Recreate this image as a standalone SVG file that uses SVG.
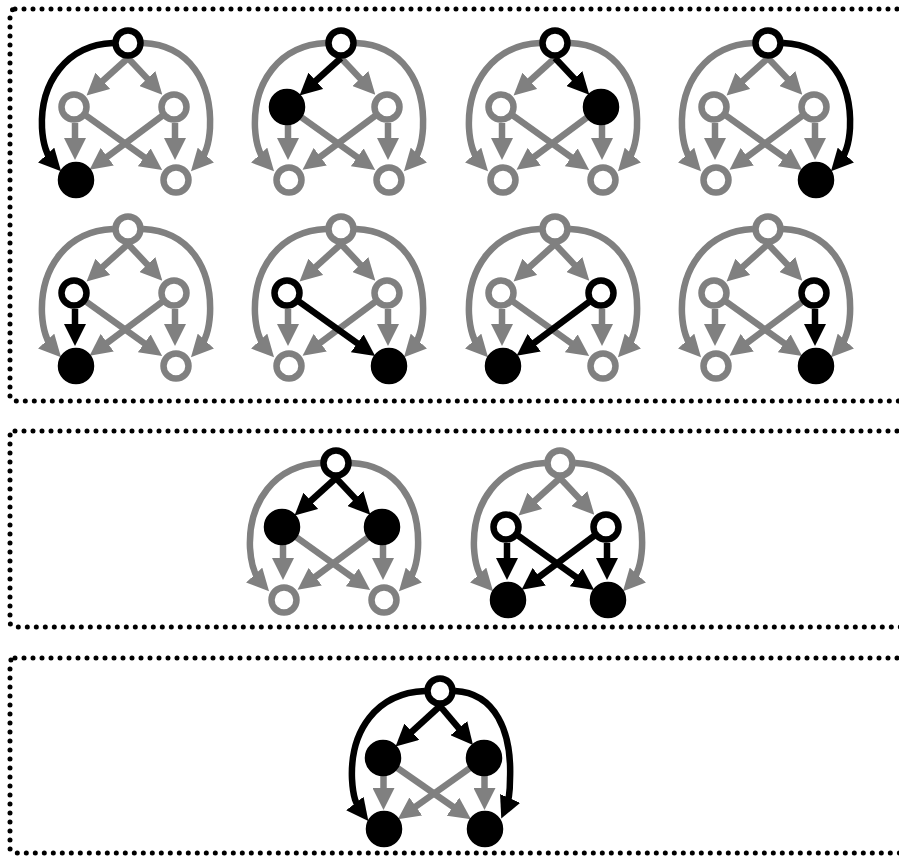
<svg xmlns="http://www.w3.org/2000/svg" width="899" height="856" viewBox="0 0 899 856">
<style>
.box{fill:none;stroke:#000;stroke-width:5;stroke-dasharray:0 9;stroke-linecap:round}
.eg{fill:none;stroke:#808080;stroke-width:6.5;marker-end:url(#ag)}
.eb{fill:none;stroke:#000;stroke-width:6.5;marker-end:url(#ab)}
.ng{fill:#fff;stroke:#808080;stroke-width:6.5}
.nb{fill:#fff;stroke:#000;stroke-width:6.5}
.nf{fill:#000;stroke:#000;stroke-width:6.5}
</style>
<defs>
<marker id="ag" markerUnits="userSpaceOnUse" viewBox="0 0 22 22" markerWidth="22" markerHeight="22" refX="11" refY="11" orient="auto"><path d="M0,0 L22,11 L0,22 z" fill="#808080"/></marker>
<marker id="ab" markerUnits="userSpaceOnUse" viewBox="0 0 22 22" markerWidth="22" markerHeight="22" refX="11" refY="11" orient="auto"><path d="M0,0 L22,11 L0,22 z" fill="#000"/></marker>
</defs>
<rect width="899" height="856" fill="#fff"/>
<g id="frames">
<rect class="box" x="10" y="9" width="910" height="392" rx="5"/>
<rect class="box" x="10" y="431" width="910" height="196" rx="5"/>
<rect class="box" x="10" y="658" width="910" height="195" rx="5"/>
</g>

<!-- Graph 1 -->
<g id="g1" transform="translate(128,43)">
<g id="g1-edges">
<path class="eg" d="M0,15 L-33.3,45.2"/>
<path class="eg" d="M0,15 L26.8,43.6"/>
<path class="eg" d="M15,0 C62,2 84,40 82,85 C81,103 77,113 70.4,120.2"/>
<path class="eg" d="M-53,80 L-53,106"/>
<path class="eg" d="M-42.6,72.2 L25.2,120.7"/>
<path class="eg" d="M34.8,72.4 L-29.6,120.3"/>
<path class="eg" d="M47,80 L47,106"/>
<path class="eb" d="M-15,0 C-62,2 -88,40 -86,85 C-85,103 -81,113 -74.4,120.2"/>
</g>
<g id="g1-t"><circle class="nb" cx="0" cy="0" r="12.5"/></g>
<g id="g1-ml"><circle class="ng" cx="-54" cy="64" r="12.5"/></g>
<g id="g1-mr"><circle class="ng" cx="46" cy="64" r="12.5"/></g>
<g id="g1-bl"><circle class="nf" cx="-52" cy="137" r="15"/></g>
<g id="g1-br"><circle class="ng" cx="48" cy="137" r="12.5"/></g>
</g>

<!-- Graph 2 -->
<g id="g2" transform="translate(341,43)">
<g id="g2-edges">
<path class="eg" d="M0,15 L26.8,43.6"/>
<path class="eg" d="M-15,0 C-62,2 -88,40 -86,85 C-85,103 -81,113 -74.4,120.2"/>
<path class="eg" d="M15,0 C62,2 84,40 82,85 C81,103 77,113 70.4,120.2"/>
<path class="eg" d="M-53,80 L-53,106"/>
<path class="eg" d="M-42.6,72.2 L25.2,120.7"/>
<path class="eg" d="M34.8,72.4 L-29.6,120.3"/>
<path class="eg" d="M47,80 L47,106"/>
<path class="eb" d="M0,15 L-33.3,45.2"/>
</g>
<g id="g2-t"><circle class="nb" cx="0" cy="0" r="12.5"/></g>
<g id="g2-ml"><circle class="nf" cx="-54" cy="64" r="15"/></g>
<g id="g2-mr"><circle class="ng" cx="46" cy="64" r="12.5"/></g>
<g id="g2-bl"><circle class="ng" cx="-52" cy="137" r="12.5"/></g>
<g id="g2-br"><circle class="ng" cx="48" cy="137" r="12.5"/></g>
</g>

<!-- Graph 3 -->
<g id="g3" transform="translate(555,43)">
<g id="g3-edges">
<path class="eg" d="M0,15 L-33.3,45.2"/>
<path class="eg" d="M-15,0 C-62,2 -88,40 -86,85 C-85,103 -81,113 -74.4,120.2"/>
<path class="eg" d="M15,0 C62,2 84,40 82,85 C81,103 77,113 70.4,120.2"/>
<path class="eg" d="M-53,80 L-53,106"/>
<path class="eg" d="M-42.6,72.2 L25.2,120.7"/>
<path class="eg" d="M34.8,72.4 L-29.6,120.3"/>
<path class="eg" d="M47,80 L47,106"/>
<path class="eb" d="M0,15 L26.8,43.6"/>
</g>
<g id="g3-t"><circle class="nb" cx="0" cy="0" r="12.5"/></g>
<g id="g3-ml"><circle class="ng" cx="-54" cy="64" r="12.5"/></g>
<g id="g3-mr"><circle class="nf" cx="46" cy="64" r="15"/></g>
<g id="g3-bl"><circle class="ng" cx="-52" cy="137" r="12.5"/></g>
<g id="g3-br"><circle class="ng" cx="48" cy="137" r="12.5"/></g>
</g>

<!-- Graph 4 -->
<g id="g4" transform="translate(768,43)">
<g id="g4-edges">
<path class="eg" d="M0,15 L-33.3,45.2"/>
<path class="eg" d="M0,15 L26.8,43.6"/>
<path class="eg" d="M-15,0 C-62,2 -88,40 -86,85 C-85,103 -81,113 -74.4,120.2"/>
<path class="eg" d="M-53,80 L-53,106"/>
<path class="eg" d="M-42.6,72.2 L25.2,120.7"/>
<path class="eg" d="M34.8,72.4 L-29.6,120.3"/>
<path class="eg" d="M47,80 L47,106"/>
<path class="eb" d="M15,0 C62,2 84,40 82,85 C81,103 77,113 70.4,120.2"/>
</g>
<g id="g4-t"><circle class="nb" cx="0" cy="0" r="12.5"/></g>
<g id="g4-ml"><circle class="ng" cx="-54" cy="64" r="12.5"/></g>
<g id="g4-mr"><circle class="ng" cx="46" cy="64" r="12.5"/></g>
<g id="g4-bl"><circle class="ng" cx="-52" cy="137" r="12.5"/></g>
<g id="g4-br"><circle class="nf" cx="48" cy="137" r="15"/></g>
</g>

<!-- Graph 5 -->
<g id="g5" transform="translate(128,229)">
<g id="g5-edges">
<path class="eg" d="M0,15 L-33.3,45.2"/>
<path class="eg" d="M0,15 L26.8,43.6"/>
<path class="eg" d="M-15,0 C-62,2 -88,40 -86,85 C-85,103 -81,113 -74.4,120.2"/>
<path class="eg" d="M15,0 C62,2 84,40 82,85 C81,103 77,113 70.4,120.2"/>
<path class="eg" d="M-42.6,72.2 L25.2,120.7"/>
<path class="eg" d="M34.8,72.4 L-29.6,120.3"/>
<path class="eg" d="M47,80 L47,106"/>
<path class="eb" d="M-53,80 L-53,106"/>
</g>
<g id="g5-t"><circle class="ng" cx="0" cy="0" r="12.5"/></g>
<g id="g5-ml"><circle class="nb" cx="-54" cy="64" r="12.5"/></g>
<g id="g5-mr"><circle class="ng" cx="46" cy="64" r="12.5"/></g>
<g id="g5-bl"><circle class="nf" cx="-52" cy="137" r="15"/></g>
<g id="g5-br"><circle class="ng" cx="48" cy="137" r="12.5"/></g>
</g>

<!-- Graph 6 -->
<g id="g6" transform="translate(341,229)">
<g id="g6-edges">
<path class="eg" d="M0,15 L-33.3,45.2"/>
<path class="eg" d="M0,15 L26.8,43.6"/>
<path class="eg" d="M-15,0 C-62,2 -88,40 -86,85 C-85,103 -81,113 -74.4,120.2"/>
<path class="eg" d="M15,0 C62,2 84,40 82,85 C81,103 77,113 70.4,120.2"/>
<path class="eg" d="M-53,80 L-53,106"/>
<path class="eg" d="M34.8,72.4 L-29.6,120.3"/>
<path class="eg" d="M47,80 L47,106"/>
<path class="eb" d="M-42.6,72.2 L25.2,120.7"/>
</g>
<g id="g6-t"><circle class="ng" cx="0" cy="0" r="12.5"/></g>
<g id="g6-ml"><circle class="nb" cx="-54" cy="64" r="12.5"/></g>
<g id="g6-mr"><circle class="ng" cx="46" cy="64" r="12.5"/></g>
<g id="g6-bl"><circle class="ng" cx="-52" cy="137" r="12.5"/></g>
<g id="g6-br"><circle class="nf" cx="48" cy="137" r="15"/></g>
</g>

<!-- Graph 7 -->
<g id="g7" transform="translate(555,229)">
<g id="g7-edges">
<path class="eg" d="M0,15 L-33.3,45.2"/>
<path class="eg" d="M0,15 L26.8,43.6"/>
<path class="eg" d="M-15,0 C-62,2 -88,40 -86,85 C-85,103 -81,113 -74.4,120.2"/>
<path class="eg" d="M15,0 C62,2 84,40 82,85 C81,103 77,113 70.4,120.2"/>
<path class="eg" d="M-53,80 L-53,106"/>
<path class="eg" d="M-42.6,72.2 L25.2,120.7"/>
<path class="eg" d="M47,80 L47,106"/>
<path class="eb" d="M34.8,72.4 L-29.6,120.3"/>
</g>
<g id="g7-t"><circle class="ng" cx="0" cy="0" r="12.5"/></g>
<g id="g7-ml"><circle class="ng" cx="-54" cy="64" r="12.5"/></g>
<g id="g7-mr"><circle class="nb" cx="46" cy="64" r="12.5"/></g>
<g id="g7-bl"><circle class="nf" cx="-52" cy="137" r="15"/></g>
<g id="g7-br"><circle class="ng" cx="48" cy="137" r="12.5"/></g>
</g>

<!-- Graph 8 -->
<g id="g8" transform="translate(768,229)">
<g id="g8-edges">
<path class="eg" d="M0,15 L-33.3,45.2"/>
<path class="eg" d="M0,15 L26.8,43.6"/>
<path class="eg" d="M-15,0 C-62,2 -88,40 -86,85 C-85,103 -81,113 -74.4,120.2"/>
<path class="eg" d="M15,0 C62,2 84,40 82,85 C81,103 77,113 70.4,120.2"/>
<path class="eg" d="M-53,80 L-53,106"/>
<path class="eg" d="M-42.6,72.2 L25.2,120.7"/>
<path class="eg" d="M34.8,72.4 L-29.6,120.3"/>
<path class="eb" d="M47,80 L47,106"/>
</g>
<g id="g8-t"><circle class="ng" cx="0" cy="0" r="12.5"/></g>
<g id="g8-ml"><circle class="ng" cx="-54" cy="64" r="12.5"/></g>
<g id="g8-mr"><circle class="nb" cx="46" cy="64" r="12.5"/></g>
<g id="g8-bl"><circle class="ng" cx="-52" cy="137" r="12.5"/></g>
<g id="g8-br"><circle class="nf" cx="48" cy="137" r="15"/></g>
</g>

<!-- Graph 9 -->
<g id="g9" transform="translate(336,463)">
<g id="g9-edges">
<path class="eg" d="M-15,0 C-62,2 -88,40 -86,85 C-85,103 -81,113 -74.4,120.2"/>
<path class="eg" d="M15,0 C62,2 84,40 82,85 C81,103 77,113 70.4,120.2"/>
<path class="eg" d="M-53,80 L-53,106"/>
<path class="eg" d="M-42.6,72.2 L25.2,120.7"/>
<path class="eg" d="M34.8,72.4 L-29.6,120.3"/>
<path class="eg" d="M47,80 L47,106"/>
<path class="eb" d="M0,15 L-33.3,45.2"/>
<path class="eb" d="M0,15 L26.8,43.6"/>
</g>
<g id="g9-t"><circle class="nb" cx="0" cy="0" r="12.5"/></g>
<g id="g9-ml"><circle class="nf" cx="-54" cy="64" r="15"/></g>
<g id="g9-mr"><circle class="nf" cx="46" cy="64" r="15"/></g>
<g id="g9-bl"><circle class="ng" cx="-52" cy="137" r="12.5"/></g>
<g id="g9-br"><circle class="ng" cx="48" cy="137" r="12.5"/></g>
</g>

<!-- Graph 10 -->
<g id="g10" transform="translate(560,463)">
<g id="g10-edges">
<path class="eg" d="M0,15 L-33.3,45.2"/>
<path class="eg" d="M0,15 L26.8,43.6"/>
<path class="eg" d="M-15,0 C-62,2 -88,40 -86,85 C-85,103 -81,113 -74.4,120.2"/>
<path class="eg" d="M15,0 C62,2 84,40 82,85 C81,103 77,113 70.4,120.2"/>
<path class="eb" d="M-53,80 L-53,106"/>
<path class="eb" d="M-42.6,72.2 L25.2,120.7"/>
<path class="eb" d="M34.8,72.4 L-29.6,120.3"/>
<path class="eb" d="M47,80 L47,106"/>
</g>
<g id="g10-t"><circle class="ng" cx="0" cy="0" r="12.5"/></g>
<g id="g10-ml"><circle class="nb" cx="-54" cy="64" r="12.5"/></g>
<g id="g10-mr"><circle class="nb" cx="46" cy="64" r="12.5"/></g>
<g id="g10-bl"><circle class="nf" cx="-52" cy="137" r="15"/></g>
<g id="g10-br"><circle class="nf" cx="48" cy="137" r="15"/></g>
</g>

<!-- Graph 11 -->
<g id="g11" transform="translate(440,691)">
<g id="g11-edges">
<path class="eg" d="M-56.5,84 L-56.5,108"/>
<path class="eg" d="M-45.5,75 L22,122"/>
<path class="eg" d="M32.6,75.1 L-33.2,121.8"/>
<path class="eg" d="M44.5,84 L44.5,108"/>
<path class="eb" d="M0,15 L-36.3,48.1"/>
<path class="eb" d="M0,15 L25.9,45.6"/>
<path class="eb" d="M-15,0 C-64,2 -90,40 -88,88 C-87,106 -84,114 -78.4,121.2"/>
<path class="eb" d="M15,0 C55,2 72,40 70,88 C70,103 69,110 65.7,117.5"/>
</g>
<g id="g11-t"><circle class="nb" cx="0" cy="0" r="12.5"/></g>
<g id="g11-ml"><circle class="nf" cx="-57" cy="67" r="15"/></g>
<g id="g11-mr"><circle class="nf" cx="44" cy="67" r="15"/></g>
<g id="g11-bl"><circle class="nf" cx="-56" cy="138" r="15"/></g>
<g id="g11-br"><circle class="nf" cx="45" cy="138" r="15"/></g>
</g>
</svg>
